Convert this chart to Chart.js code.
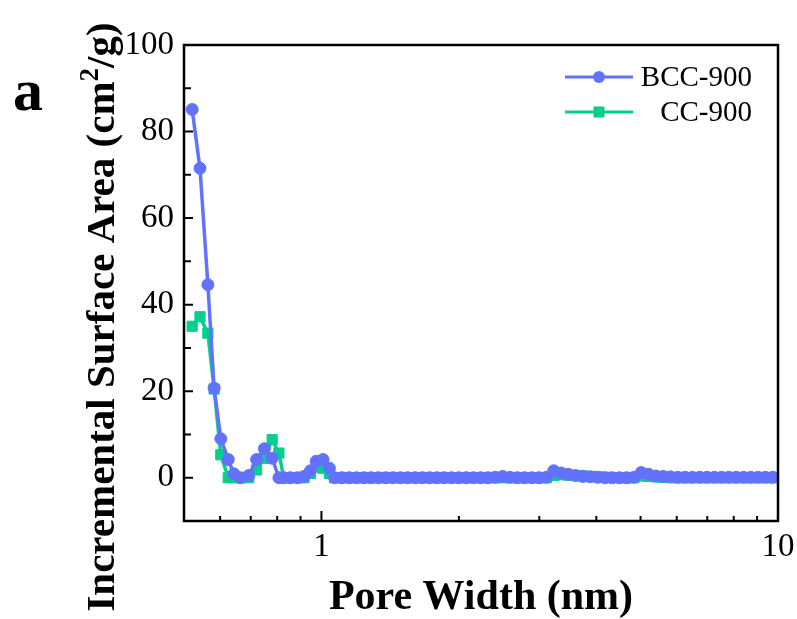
<!DOCTYPE html>
<html>
<head>
<meta charset="utf-8">
<title>Pore size distribution</title>
<script src="https://cdn.jsdelivr.net/npm/chart.js@4.4.0/dist/chart.umd.min.js"></script>
<style>
    html, body { margin: 0; padding: 0; background: #fff; overflow: hidden; }
    #wrap { width: 797px; height: 619px; position: relative; }
</style>
</head>
<body>
<div id="wrap"><canvas id="Wykres_1"></canvas></div>
<script>
// pore width (nm)
const poreWidth = [
    0.521, 0.542, 0.564, 0.582, 0.602, 0.625, 0.643, 0.665, 0.693, 0.721, 0.750,
    0.780, 0.807, 0.827, 0.855, 0.887, 0.916, 0.946, 0.974, 1.008, 1.041, 1.069,
    1.109, 1.151, 1.194, 1.239, 1.285, 1.333, 1.383, 1.435, 1.489, 1.545,
    1.603, 1.663, 1.725, 1.790, 1.857, 1.927, 1.999, 2.074, 2.152, 2.233,
    2.316, 2.403, 2.493, 2.587, 2.684, 2.785, 2.889, 2.997, 3.110, 3.226,
    3.347, 3.473, 3.603, 3.738, 3.878, 4.024, 4.175, 4.331, 4.494, 4.662,
    4.837, 5.018, 5.207, 5.402, 5.604, 5.815, 6.033, 6.259, 6.494, 6.737,
    6.990, 7.252, 7.524, 7.806, 8.099, 8.403, 8.718, 9.045, 9.384, 9.736
];
const bcc900 = [
    85.1, 71.5, 44.6, 20.7, 9.0, 4.2, 0.9, 0.0, 0.5, 4.2, 6.7,
    4.5, 0.0, 0.0, 0.0, 0.0, 0.3, 1.6, 3.8, 4.2, 2.2, 0.0,
    0.0, 0.0, 0.0, 0.0, 0.0, 0.0, 0.0, 0.0, 0.0, 0.0,
    0.0, 0.0, 0.0, 0.0, 0.0, 0.0, 0.0, 0.0, 0.0, 0.0,
    0.0, 0.1, 0.3, 0.1, 0.0, 0.0, 0.0, 0.0, 0.1, 1.6,
    1.1, 0.8, 0.5, 0.3, 0.2, 0.1, 0.0, 0.0, 0.0, 0.0,
    0.1, 1.2, 0.8, 0.4, 0.3, 0.2, 0.1, 0.1, 0.1, 0.1,
    0.1, 0.1, 0.1, 0.1, 0.1, 0.1, 0.1, 0.1, 0.1, 0.1
];
const cc900 = [
    35.0, 37.2, 33.4, 20.5, 5.3, 0.0, 0.0, 0.0, 0.0, 1.8, 4.5,
    8.8, 5.7, 0.0, 0.0, 0.0, 0.0, 1.0, 2.5, 2.2, 1.0, 0.0,
    0.0, 0.0, 0.0, 0.0, 0.0, 0.0, 0.0, 0.0, 0.0, 0.0,
    0.0, 0.0, 0.0, 0.0, 0.0, 0.0, 0.0, 0.0, 0.0, 0.0,
    0.0, 0.0, 0.0, 0.0, 0.0, 0.0, 0.0, 0.0, 0.0, 0.5,
    0.7, 0.6, 0.5, 0.4, 0.3, 0.2, 0.1, 0.0, 0.0, 0.0,
    0.0, 0.4, 0.3, 0.2, 0.1, 0.0, 0.0, 0.0, 0.0, 0.0,
    0.0, 0.0, 0.0, 0.0, 0.0, 0.0, 0.0, 0.0, 0.0, 0.0
];

const xTickLabels = [1, 10];
const xMinorTicks = [0.6, 0.7, 0.8, 0.9, 2, 3, 4, 5, 6, 7, 8, 9];
const yTickLabels = [0, 20, 40, 60, 80, 100];
const yMinorTicks = [10, 30, 50, 70, 90];

const seriesNames = ['BCC-900', 'CC-900'];
const blue = '#6272FF';
const green = '#05CF8C';
const serif = "'Liberation Serif', 'Times New Roman', serif";

function toPoints(xs, ys) {
    let pts = [];
    for (let i = 0; i < xs.length; i++) {
        pts.push({ x: xs[i], y: ys[i] });
    }
    return pts;
}

// frame, inward ticks, y title, panel letter and the line+marker legend
const framePlugin = {
    id: 'frame',
    afterDatasetsDraw(chart) {
        const ctx = chart.ctx;
        const a = chart.chartArea;
        const xs = chart.scales.x;
        const ys = chart.scales.y;
        ctx.save();
        ctx.strokeStyle = '#000';
        ctx.lineWidth = 2.5;
        ctx.strokeRect(a.left, a.top, a.right - a.left, a.bottom - a.top);

        ctx.lineWidth = 2;
        ctx.beginPath();
        xTickLabels.forEach(v => {
            const px = xs.getPixelForValue(v);
            ctx.moveTo(px, a.bottom); ctx.lineTo(px, a.bottom - 10);
        });
        xMinorTicks.forEach(v => {
            const px = xs.getPixelForValue(v);
            ctx.moveTo(px, a.bottom); ctx.lineTo(px, a.bottom - 5);
        });
        yTickLabels.forEach(v => {
            const py = ys.getPixelForValue(v);
            ctx.moveTo(a.left, py); ctx.lineTo(a.left + 9, py);
        });
        yMinorTicks.forEach(v => {
            const py = ys.getPixelForValue(v);
            ctx.moveTo(a.left, py); ctx.lineTo(a.left + 7, py);
        });
        ctx.stroke();

        // legend
        const rows = [
            { name: seriesNames[0], color: blue, style: 'circle', y: 77 },
            { name: seriesNames[1], color: green, style: 'rect', y: 112 }
        ];
        rows.forEach(r => {
            ctx.strokeStyle = r.color;
            ctx.fillStyle = r.color;
            ctx.lineWidth = 3;
            ctx.beginPath();
            ctx.moveTo(565, r.y); ctx.lineTo(633, r.y);
            ctx.stroke();
            if (r.style == 'circle') {
                ctx.beginPath();
                ctx.arc(599, r.y, 6, 0, Math.PI * 2);
                ctx.fill();
            } else {
                ctx.fillRect(593.5, r.y - 5.5, 11, 11);
            }
            ctx.fillStyle = '#000';
            ctx.font = '29px ' + serif;
            ctx.textAlign = 'right';
            ctx.textBaseline = 'middle';
            ctx.fillText(r.name, 752, r.y + 1);
        });

        // y axis title with superscript
        ctx.fillStyle = '#000';
        ctx.translate(114, 317);
        ctx.rotate(-Math.PI / 2);
        ctx.textBaseline = 'alphabetic';
        ctx.textAlign = 'left';
        const big = 'bold 41px ' + serif;
        const small = 'bold 27px ' + serif;
        const p1 = 'Incremental Surface Area (cm';
        const p2 = '2';
        const p3 = '/g)';
        ctx.font = big;
        const w1 = ctx.measureText(p1).width;
        const w3 = ctx.measureText(p3).width;
        ctx.font = small;
        const w2 = ctx.measureText(p2).width;
        let x0 = -(w1 + w2 + w3) / 2;
        ctx.font = big;
        ctx.fillText(p1, x0, 0);
        ctx.font = small;
        ctx.fillText(p2, x0 + w1, -16);
        ctx.font = big;
        ctx.fillText(p3, x0 + w1 + w2, 0);
        ctx.restore();

        ctx.save();
        ctx.fillStyle = '#000';
        ctx.font = 'bold 60px ' + serif;
        ctx.textAlign = 'left';
        ctx.textBaseline = 'alphabetic';
        ctx.fillText('a', 13, 110);
        ctx.restore();
    }
};

const ctx = document.getElementById('Wykres_1').getContext('2d');
const chart = new Chart(ctx, {
    type: 'line',
    data: {
        datasets: [{
            label: seriesNames[0],
            data: toPoints(poreWidth, bcc900),
            borderColor: blue,
            backgroundColor: blue,
            borderWidth: 3.5,
            pointStyle: 'circle',
            pointRadius: 6,
            pointBorderWidth: 1,
            tension: 0
        }, {
            label: seriesNames[1],
            data: toPoints(poreWidth, cc900),
            borderColor: green,
            backgroundColor: green,
            borderWidth: 3.5,
            pointStyle: 'rect',
            pointRadius: 7.2,
            pointBorderWidth: 1,
            tension: 0
        }]
    },
    options: {
        responsive: true,
        maintainAspectRatio: false,
        animation: false,
        devicePixelRatio: 1,
        layout: { padding: { left: 0, top: 45, right: 19, bottom: 0 } },
        plugins: {
            legend: { display: false },
            tooltip: { enabled: false }
        },
        scales: {
            x: {
                type: 'logarithmic',
                min: 0.5,
                max: 10,
                grid: { display: false, drawTicks: false },
                border: { display: false },
                afterBuildTicks: s => { s.ticks = xTickLabels.map(v => ({ value: v })); },
                afterFit: s => { s.height = 98; s.paddingLeft = 0; s.paddingRight = 0; },
                ticks: {
                    color: '#000',
                    font: { family: serif, size: 33 },
                    padding: 7,
                    maxRotation: 0,
                    autoSkip: false,
                    callback: v => String(v)
                },
                title: {
                    display: true,
                    text: 'Pore Width (nm)',
                    color: '#000',
                    font: { family: serif, size: 42, weight: 'bold', lineHeight: 1.0 },
                    padding: { top: 0, bottom: 0 }
                }
            },
            y: {
                min: -10,
                max: 100,
                grid: { display: false, drawTicks: false },
                border: { display: false },
                afterBuildTicks: s => { s.ticks = yTickLabels.map(v => ({ value: v })); },
                afterFit: s => { s.width = 184; s.paddingTop = 0; s.paddingBottom = 0; },
                ticks: {
                    color: '#000',
                    font: { family: serif, size: 33 },
                    padding: 10
                }
            }
        }
    },
    plugins: [framePlugin]
});
</script>
</body>
</html>
